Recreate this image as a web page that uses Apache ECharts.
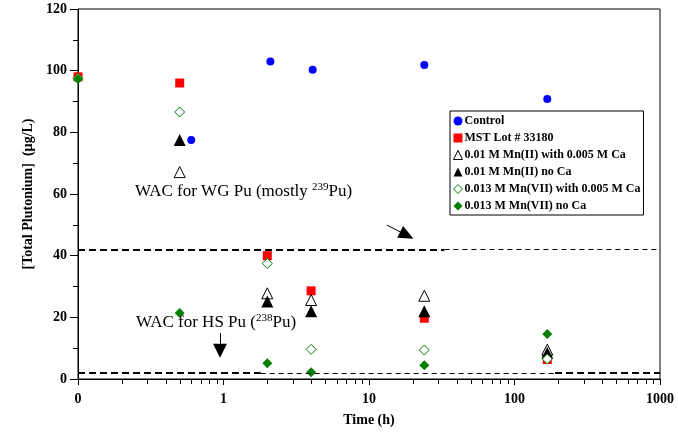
<!DOCTYPE html>
<html>
<head>
<meta charset="utf-8">
<script src="https://cdn.jsdelivr.net/npm/echarts@6/dist/echarts.min.js"></script>
<style>
  html, body { margin: 0; padding: 0; background: #fff; }
  #chart { width: 678px; height: 438px; }
</style>
</head>
<body>
<div id="chart"></div>
<script>
// sampling times (h); the first sample (t = 0) sits at the left end of the log axis
var controlTime = [0.1, 0.6, 2.1, 4.1, 24, 168];
var sampleTime = [0.1, 0.5, 2, 4, 24, 168];

// [Total Pu] in ug/L (t = 0 points hidden under the diamond are left out)
var controlPu = [null, 77.5, 103, 100.3, 101.8, 90.8];
var mstPu = [98, 96, 40, 28.6, 19.7, 6.3];
var mn2CaPu = [null, 67.1, 27.8, 25.6, 27.0, 9.5];
var mn2Pu = [null, 77.5, 25.1, 22.0, 22.0, 8.5];
var mn7CaPu = [97.5, 86.6, 37.5, 9.6, 9.4, 6.5];
var mn7Pu = [97.3, 21.4, 5.1, 2.2, 4.5, 14.6];

var seriesNames = [
    'Control',
    'MST Lot # 33180',
    '0.01 M Mn(II) with 0.005 M Ca',
    '0.01 M Mn(II) no Ca',
    '0.013 M Mn(VII) with 0.005 M Ca',
    '0.013 M Mn(VII) no Ca'
];

// WAC limits (ug/L)
var wgLimit = 42;
var hsLimit = 2;

// log axis minor tick positions
var minorTicks = [0.2, 0.3, 0.4, 0.5, 0.6, 0.7, 0.8, 0.9,
    2, 3, 4, 5, 6, 7, 8, 9,
    20, 30, 40, 50, 60, 70, 80, 90,
    200, 300, 400, 500, 600, 700, 800, 900];

var serif = 'Liberation Serif';

function pairs(xs, ys) {
    var out = [];
    xs.forEach(function (x, i) {
        if (ys[i] != null) out.push([x, ys[i]]);
    });
    return out;
}

var chart = echarts.init(document.getElementById('chart'));

var option = {
    animation: false,
    backgroundColor: '#fff',
    grid: {
        left: 78, top: 9, right: 18, bottom: 59,
        show: true, borderColor: '#000', borderWidth: 1
    },
    legend: {
        data: seriesNames,
        orient: 'vertical',
        left: 450, top: 111,
        padding: [3, 3, 2, 3],
        itemGap: 3,
        itemWidth: 9, itemHeight: 9,
        itemStyle: { borderWidth: 1, opacity: 1 },
        backgroundColor: '#fff',
        borderColor: '#000', borderWidth: 1,
        textStyle: { fontFamily: serif, fontWeight: 'bold', fontSize: 12, color: '#000', lineHeight: 14, padding: [0, 0, 0, -3] }
    },
    xAxis: {
        type: 'log', logBase: 10, min: 0.1, max: 1000, splitNumber: 4,
        name: 'Time (h)', nameLocation: 'middle', nameGap: 34,
        nameTextStyle: { fontFamily: serif, fontWeight: 'bold', fontSize: 14, color: '#000' },
        axisLine: { lineStyle: { color: '#000', width: 1 } },
        axisTick: { length: 6, lineStyle: { color: '#000' } },
        axisLabel: {
            margin: 13, fontFamily: serif, fontWeight: 'bold', fontSize: 14, color: '#000',
            formatter: function (v) { return v < 0.5 ? '0' : String(Math.round(v)); }
        },
        splitLine: { show: false }
    },
    yAxis: {
        type: 'value', min: 0, max: 120, interval: 20,
        name: '[Total Plutonium]  (\u00b5g/L)', nameLocation: 'middle', nameGap: 32,
        nameTextStyle: { fontFamily: serif, fontWeight: 'bold', fontSize: 14, color: '#000' },
        axisLine: { show: true, lineStyle: { color: '#000', width: 1 } },
        axisTick: { length: 8, lineStyle: { color: '#000' } },
        minorTick: { show: true, splitNumber: 2, length: 5, lineStyle: { color: '#000' } },
        axisLabel: { margin: 11, fontFamily: serif, fontWeight: 'bold', fontSize: 14, color: '#000' },
        splitLine: { show: false }
    },
    graphic: [
        {
            type: 'text', left: 135, top: 182, z: 50,
            style: {
                text: '{a|WAC for WG Pu (mostly }{s|239}{a|Pu)}',
                rich: {
                    a: { fontFamily: serif, fontSize: 17, lineHeight: 20, fill: '#000' },
                    s: { fontFamily: serif, fontSize: 11, lineHeight: 11, verticalAlign: 'top', fill: '#000' }
                }
            }
        },
        {
            type: 'text', left: 136, top: 313, z: 50,
            style: {
                text: '{a|WAC for HS Pu (}{s|238}{a|Pu)}',
                rich: {
                    a: { fontFamily: serif, fontSize: 17, lineHeight: 20, fill: '#000' },
                    s: { fontFamily: serif, fontSize: 11, lineHeight: 11, verticalAlign: 'top', fill: '#000' }
                }
            }
        }
    ],
    series: [
        {
            name: seriesNames[0], type: 'scatter', symbol: 'circle', symbolSize: 8,
            itemStyle: { color: '#0000ff', opacity: 1 },
            data: pairs(controlTime, controlPu)
        },
        {
            name: seriesNames[1], type: 'scatter', symbol: 'rect', symbolSize: 9,
            itemStyle: { color: '#ff0000', opacity: 1 },
            data: pairs(sampleTime, mstPu)
        },
        {
            name: seriesNames[2], type: 'scatter', symbol: 'triangle', symbolSize: 11,
            itemStyle: { color: '#fff', borderColor: '#000', borderWidth: 1, opacity: 1 },
            data: pairs(sampleTime, mn2CaPu)
        },
        {
            name: seriesNames[3], type: 'scatter', symbol: 'triangle', symbolSize: 12,
            itemStyle: { color: '#000', opacity: 1 },
            data: pairs(sampleTime, mn2Pu)
        },
        {
            name: seriesNames[4], type: 'scatter', symbol: 'diamond', symbolSize: 10,
            itemStyle: { color: '#fff', borderColor: '#008000', borderWidth: 1, opacity: 1 },
            data: pairs(sampleTime, mn7CaPu)
        },
        {
            name: seriesNames[5], type: 'scatter', symbol: 'diamond', symbolSize: 10,
            itemStyle: { color: '#008000', opacity: 1 },
            data: pairs(sampleTime, mn7Pu)
        },
        {
            // WAC limit lines and pointer arrows
            name: 'wac', type: 'scatter', data: [], silent: true,
            markLine: {
                silent: true, animation: false,
                symbol: 'none',
                label: { show: false },
                data: [
                    [{ coord: [0.1, wgLimit], lineStyle: { width: 2, type: [7, 4], color: '#000' } }, { coord: [33, wgLimit] }],
                    [{ coord: [33, wgLimit], lineStyle: { width: 1, type: [5, 4], color: '#000' } }, { coord: [1000, wgLimit] }],
                    [{ coord: [0.1, hsLimit], lineStyle: { width: 2, type: [7, 4], color: '#000' } }, { coord: [1.8, hsLimit] }],
                    [{ coord: [1.8, hsLimit], lineStyle: { width: 1, type: [5, 4], color: '#000' } }, { coord: [190, hsLimit] }],
                    [{ coord: [190, hsLimit], lineStyle: { width: 2, type: [7, 4], color: '#000' } }, { coord: [1000, hsLimit] }],
                    [{ coord: [13.3, 49.9], symbol: 'none', lineStyle: { width: 1, type: 'solid', color: '#000' } },
                     { coord: [18.2, 46.6], symbol: 'triangle', symbolSize: [13, 15] }],
                    [{ coord: [0.946, 14.9], symbol: 'none', lineStyle: { width: 1, type: 'solid', color: '#000' } },
                     { coord: [0.946, 9.2], symbol: 'triangle', symbolSize: [14, 14] }]
                ]
            }
        },
        {
            // minor ticks of the log time axis
            name: 'minor', type: 'custom', silent: true, clip: false,
            data: minorTicks.map(function (t) { return [t, 0]; }),
            renderItem: function (params, api) {
                var p = api.coord([api.value(0), api.value(1)]);
                var x = Math.round(p[0]) + 0.5;
                return {
                    type: 'line',
                    shape: { x1: x, y1: p[1], x2: x, y2: p[1] + 5 },
                    style: { stroke: '#000', lineWidth: 1 }
                };
            }
        }
    ]
};

chart.setOption(option);
</script>
</body>
</html>
